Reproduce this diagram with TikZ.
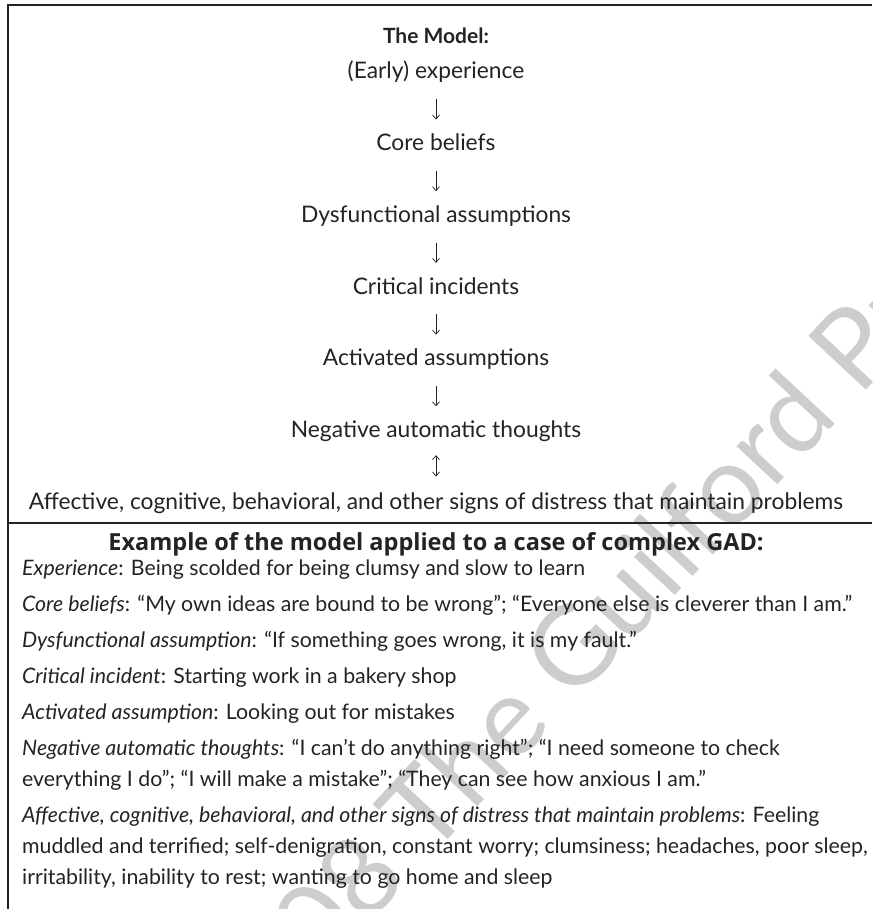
\documentclass[tikz,border=0pt]{standalone}
\usepackage{fontspec}
\setmainfont{Lato}
\newfontfamily\widebold{Open Sans}
\usepackage{tikz}
\usetikzlibrary{arrows.meta, positioning}
\definecolor{inkgray}{RGB}{35,35,35}
\definecolor{markgray}{RGB}{205,205,205}

\begin{document}
\begin{tikzpicture}[
    x=1pt, y=-1pt,
    node distance=50.3pt,
    stage/.style={inner sep=0pt, text height=16pt, text depth=5pt, text=inkgray,
                  font=\fontsize{22.8}{26}\selectfont},
    heading/.style={inner sep=0pt, anchor=base, text=inkgray,
                    font=\fontsize{21}{24}\selectfont\bfseries},
    item/.style={inner sep=0pt, anchor=base west, align=left, text=inkgray,
                 font=\fontsize{21.3}{31}\selectfont},
    flow/.style={-{Straight Barb[length=4pt,width=7pt]}, line width=0.7pt, inkgray,
                 shorten <=15pt, shorten >=15pt},
    both/.style={{Straight Barb[length=4pt,width=7pt]}-{Straight Barb[length=4pt,width=7pt]},
                 line width=0.7pt, inkgray, shorten <=12.5pt, shorten >=16.5pt},
    rule/.style={line width=1.2pt, inkgray}
]
\useasboundingbox (0,0) rectangle (872,909);

% watermark
\node[rotate=47, text=markgray, font=\fontsize{110}{110}\selectfont] (mark) at (565,655)
    {© 2008 The Guilford Press};

% frame
\coordinate (tl) at (8,5);
\coordinate (tr) at (872,5);
\coordinate (bl) at (8,909);
\coordinate (ml) at (8,523);
\coordinate (mr) at (872,523);
\draw[rule] (bl) -- (tl) -- (tr);
\draw[rule] (ml) -- (mr);

% the model
\node[heading] (model) at (436,44) {The Model:};
\node[stage, anchor=base] (early) at (436,79) {(Early) experience};
\node[stage, below=of early] (core) {Core beliefs};
\node[stage, below=of core] (dysf) {Dysfunctional assumptions};
\node[stage, below=of dysf] (crit) {Critical incidents};
\node[stage, below=of crit] (activ) {Activated assumptions};
\node[stage, below=of activ] (nat) {Negative automatic thoughts};
\node[stage, below=of nat] (signs) {Affective, cognitive, behavioral, and other signs of distress that maintain problems};

\draw[flow] (early) -- (core);
\draw[flow] (core) -- (dysf);
\draw[flow] (dysf) -- (crit);
\draw[flow] (crit) -- (activ);
\draw[flow] (activ) -- (nat);
\draw[both] (nat) -- (signs);

% example
\node[heading, font=\fontsize{23.5}{26}\selectfont\widebold\bfseries] (example) at (436,550)
    {Example of the model applied to a case of complex GAD:};
\node[item] (exp) at (22,575) {\textit{Experience}: Being scolded for being clumsy and slow to learn};
\node[item] (bel) at (22,611) {\textit{Core beliefs}: “My own ideas are bound to be wrong”; “Everyone else is cleverer than I am.”};
\node[item] (ass) at (22,647) {\textit{Dysfunctional assumption}: “If something goes wrong, it is my fault.”};
\node[item] (inc) at (22,683) {\textit{Critical incident}: Starting work in a bakery shop};
\node[item] (act) at (22,719) {\textit{Activated assumption}: Looking out for mistakes};
\node[item] (tho) at (22,786) {\textit{Negative automatic thoughts}: “I can’t do anything right”; “I need someone to check\\
    everything I do”; “I will make a mistake”; “They can see how anxious I am.”};
\node[item] (dis) at (22,884) {\textit{Affective, cognitive, behavioral, and other signs of distress that maintain problems}: Feeling\\
    muddled and terrified; self-denigration, constant worry; clumsiness; headaches, poor sleep,\\
    irritability, inability to rest; wanting to go home and sleep};
\end{tikzpicture}
\end{document}
